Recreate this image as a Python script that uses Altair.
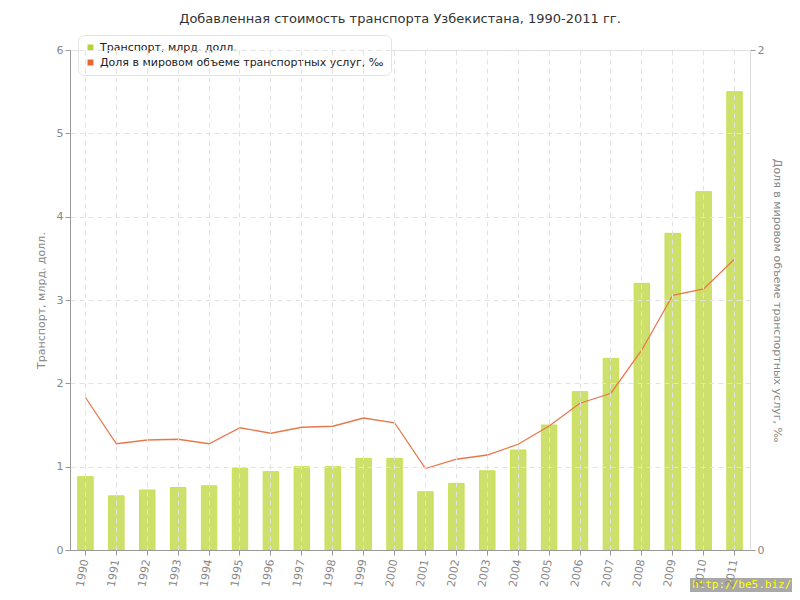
import altair as alt
import pandas as pd

years = [str(y) for y in range(1990, 2012)]
transport = [0.88, 0.65, 0.72, 0.75, 0.77, 0.98, 0.94, 1.0, 1.0, 1.1, 1.1,
             0.7, 0.8, 0.95, 1.2, 1.5, 1.9, 2.3, 3.2, 3.8, 4.3, 5.5]
share = [0.61, 0.425, 0.44, 0.443, 0.425, 0.489, 0.467, 0.491, 0.495, 0.528, 0.509,
         0.326, 0.363, 0.38, 0.423, 0.496, 0.587, 0.627, 0.80, 1.019, 1.044, 1.164]
series = ["Транспорт, млрд. долл.", "Доля в мировом объеме транспортных услуг, ‰"]
colors = ["#b8d432", "#e8672f"]

df = pd.DataFrame({"year": years, "transport": transport, "share": share,
                   "s": series[0]})

FONT = "DejaVu Sans"
GRID = "#e2e2e2"

x = alt.X("year:O",
          scale=alt.Scale(paddingInner=0.5, paddingOuter=0.25),
          axis=alt.Axis(title=None, labelAngle=280, labelColor="#888",
                        labelFontSize=11, labelFont=FONT, tickColor="#999",
                        tickSize=5, domainColor="#999", grid=True,
                        gridColor=GRID, gridDash=[5, 4], zindex=1,
                        labelPadding=4))

bars = alt.Chart(df).mark_bar(fillOpacity=0.72, stroke="#c8e150",
                              strokeWidth=1).encode(
    x=x,
    y=alt.Y("transport:Q",
            scale=alt.Scale(domain=[0, 6]),
            axis=alt.Axis(title="Транспорт, млрд. долл.", values=[0, 1, 2, 3, 4, 5, 6],
                          labelColor="#888", labelFontSize=11, labelFont=FONT,
                          titleColor="#888", titleFontSize=11, titleFont=FONT,
                          titleFontWeight="normal", tickColor="#999", tickSize=5,
                          domainColor="#999", grid=True, gridColor=GRID,
                          gridDash=[5, 4], zindex=1, titlePadding=10)),
    color=alt.Color("s:N",
                    scale=alt.Scale(domain=series, range=colors),
                    legend=alt.Legend(title=None, orient="none", legendX=8,
                                      legendY=-15, symbolType="square",
                                      symbolSize=36, symbolOpacity=1,
                                      symbolStrokeWidth=0, labelLimit=0,
                                      labelFont=FONT, labelFontSize=11,
                                      labelColor="#222", fillColor="white",
                                      strokeColor="#e4e4e4", cornerRadius=6,
                                      padding=7, rowPadding=3)),
)

line = alt.Chart(df).mark_line(color="#e8784c", strokeWidth=1.3).encode(
    x=x,
    y=alt.Y("share:Q",
            scale=alt.Scale(domain=[0, 2]),
            axis=alt.Axis(title="Доля в мировом объеме транспортных услуг, ‰",
                          orient="right", values=[0, 1, 2], format="d",
                          labelColor="#888", labelFontSize=11, labelFont=FONT,
                          titleColor="#888", titleFontSize=11, titleFont=FONT,
                          titleFontWeight="normal", tickColor="#999", tickSize=5,
                          domainColor="#dddddd", grid=False, titlePadding=8)),
)

wm = pd.DataFrame({"t": ["http://be5.biz/"]})
wm_rect = alt.Chart(wm).mark_rect(color="#a8a8a8").encode(
    x=alt.value(620), x2=alt.value(722), y=alt.value(528), y2=alt.value(542))
wm_text = alt.Chart(wm).mark_text(color="#ffff00", font="DejaVu Sans Mono",
                                  fontSize=11, align="left", baseline="middle").encode(
    x=alt.value(622), y=alt.value(535), text="t:N")

chart = alt.layer(bars, line, wm_rect, wm_text).resolve_scale(y="independent").properties(
    width=680, height=500,
    title=alt.TitleParams("Добавленная стоимость транспорта Узбекистана, 1990-2011 гг.",
                          font=FONT, fontSize=13, fontWeight="normal", color="#333",
                          anchor="middle", dx=-10, offset=9),
    autosize=alt.AutoSizeParams(type="none"),
    padding={"left": 62, "top": 42, "right": 42, "bottom": 42},
).configure_view(fill="#fafafa", stroke=None).configure(background="white")

chart.save("out.html", embed_options={"renderer": "svg", "actions": False})
